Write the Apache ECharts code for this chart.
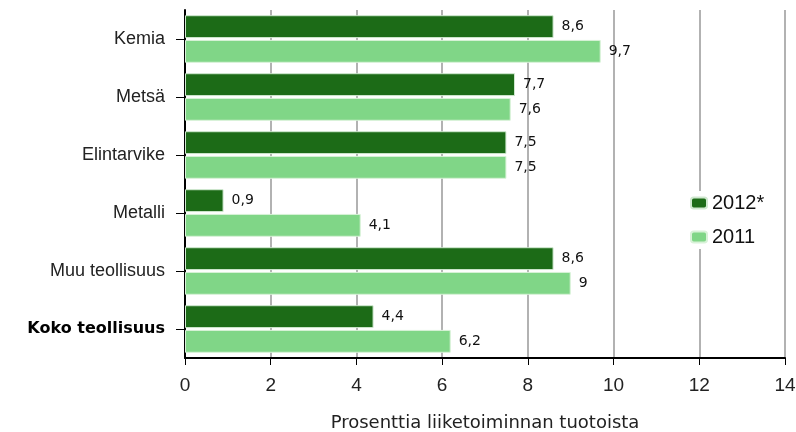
<!DOCTYPE html>
<html><head><meta charset="utf-8">
<script src="https://cdn.jsdelivr.net/npm/echarts@6/dist/echarts.min.js"></script>
<style>html,body{margin:0;padding:0;background:#fff}#c{width:796px;height:432px}</style>
</head><body><div id="c"></div>
<script>
const categories = ['Kemia','Metsä','Elintarvike','Metalli','Muu teollisuus','Koko teollisuus'];
const values2012 = [8.6, 7.7, 7.5, 0.9, 8.6, 4.4];
const values2011 = [9.7, 7.6, 7.5, 4.1, 9.0, 6.2];
const seriesNames = ['2012*','2011'];
const xTicks = [0,2,4,6,8,10,12,14];

const chart = echarts.init(document.getElementById('c'));
const fmt = p => String(p.value).replace('.', ',');
const labelStyle = {show:true, position:'right', distance:8, formatter:fmt, color:'#111', fontSize:14, fontFamily:'DejaVu Sans'};
chart.setOption({
  animation:false,
  textStyle:{fontFamily:'Liberation Sans'},
  grid:{left:185, right:11, top:10, bottom:74, outerBoundsMode:'none', containLabel:false},
  legend:{
    data:seriesNames, orient:'vertical', left:688, top:191,
    itemWidth:16, itemHeight:11, itemGap:14,
    backgroundColor:'#fff', padding:[2,4,2,2],
    textStyle:{fontSize:20, color:'#111', fontFamily:'Liberation Sans'}
  },
  xAxis:{
    type:'value', min:0, max:14, interval:2,
    name:'Prosenttia liiketoiminnan tuotoista', nameLocation:'middle', nameGap:56,
    nameTextStyle:{fontSize:18, color:'#222', fontFamily:'DejaVu Sans'},
    axisLine:{show:true, lineStyle:{color:'#000', width:2}},
    axisTick:{show:true, length:7, lineStyle:{color:'#000'}},
    axisLabel:{fontSize:19, color:'#222', margin:18},
    splitLine:{show:true, lineStyle:{color:'#999', width:1.5}}
  },
  yAxis:{
    type:'category', data:categories, inverse:true,
    axisLine:{show:true, lineStyle:{color:'#000', width:2}},
    axisTick:{show:true, alignWithLabel:true, length:9, lineStyle:{color:'#000'}},
    axisLabel:{fontSize:18, color:'#222', margin:20,
      formatter:v => v==='Koko teollisuus' ? '{b|'+v+'}' : v,
      rich:{b:{fontWeight:'bold', fontSize:16, color:'#000', fontFamily:'DejaVu Sans'}}}
  },
  series:[
    {name:seriesNames[0], type:'bar', data:values2012, barCategoryGap:'18%', barGap:'8%',
     itemStyle:{color:'#1c6b17', borderColor:'#cfe8cf', borderWidth:1}, label:labelStyle},
    {name:seriesNames[1], type:'bar', data:values2011,
     itemStyle:{color:'#80d687', borderColor:'#d8f2d8', borderWidth:1}, label:labelStyle}
  ]
});
</script></body></html>
